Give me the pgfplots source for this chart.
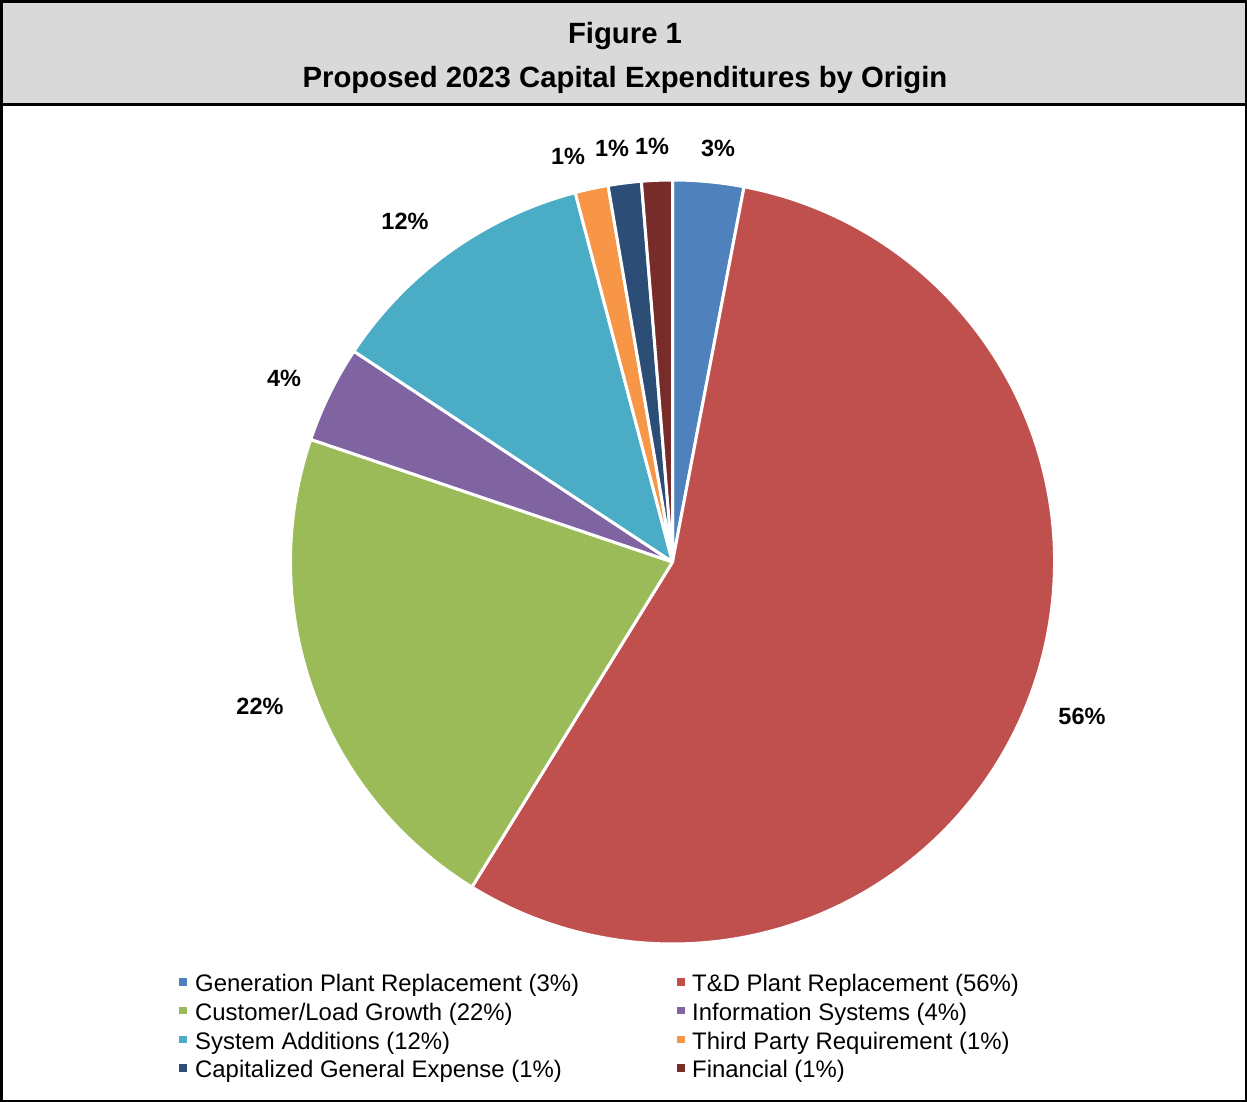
\documentclass[border=0pt]{standalone}
\usepackage{pgfplots}
\usepackage{pgfplotstable}
\pgfplotsset{compat=1.18}
\usepackage{fontspec}
\setmainfont{Liberation Sans}
\definecolor{c0}{HTML}{4F81BD}
\definecolor{c1}{HTML}{C0504D}
\definecolor{c2}{HTML}{9BBB59}
\definecolor{c3}{HTML}{8064A2}
\definecolor{c4}{HTML}{4BACC6}
\definecolor{c5}{HTML}{F79646}
\definecolor{c6}{HTML}{2C4D75}
\definecolor{c7}{HTML}{772C2A}
\definecolor{band}{HTML}{D9D9D9}
% share of each origin (percent), label value and label position
\pgfplotstableread{
idx value pct lx ly
0 3.0 3 718 954
1 55.8 56 1082 386
2 21.4 22 260 396
3 4.1 4 284 724
4 11.6 12 405 881
5 1.4 1 568 945.5
6 1.4 1 612 954
7 1.3 1 652 955.5
}\piedata
\def\cum{0}%
\pgfplotsforeachungrouped \i in {0,...,7}{%
  \pgfplotstablegetelem{\i}{value}\of\piedata
  \pgfmathsetmacro\sa{90-3.6*\cum}%
  \pgfmathsetmacro\cumnew{\cum+\pgfplotsretval}%
  \pgfmathsetmacro\ea{90-3.6*\cumnew}%
  \expandafter\xdef\csname sa\i\endcsname{\sa}%
  \expandafter\xdef\csname ea\i\endcsname{\ea}%
  \global\let\cum\cumnew
}%
\def\cx{672.5}
\def\cy{540}
\def\R{382}
\begin{document}
\begin{tikzpicture}
\begin{axis}[
  x=1pt, y=1pt, scale only axis,
  xmin=0, xmax=1247, ymin=0, ymax=1102,
  hide axis, clip=false,
]
% frame and title band
\fill[band] (axis cs:0,998) rectangle (axis cs:1247,1102);
\draw[line width=3.3pt] (axis cs:0,997.7) -- (axis cs:1247,997.7);
\draw[line width=3.4pt] (axis cs:1.7,0) -- (axis cs:1.7,1102);
\draw[line width=3.4pt] (axis cs:0,1100.3) -- (axis cs:1247,1100.3);
\draw[line width=2.2pt] (axis cs:1245.9,0) -- (axis cs:1245.9,1102);
\draw[line width=2pt] (axis cs:0,1) -- (axis cs:1247,1);
\node[font=\fontsize{29.3}{34}\selectfont\bfseries, anchor=base, inner sep=0pt] at (axis cs:625,1058.7) {Figure 1};
\node[font=\fontsize{29.3}{34}\selectfont\bfseries, anchor=base, inner sep=0pt] at (axis cs:625,1014.7) {Proposed 2023 Capital Expenditures by Origin};
% slices
\pgfplotsinvokeforeach{0,...,7}{
  \fill[c#1, draw=white, line width=3pt, line join=round]
    (axis cs:\cx,\cy) -- (axis cs:{\cx+\R*cos(\csname sa#1\endcsname)},{\cy+\R*sin(\csname sa#1\endcsname)})
    arc[start angle=\csname sa#1\endcsname, end angle=\csname ea#1\endcsname, radius=\R] -- cycle;
}
% data labels
\addplot[draw=none, mark=none, point meta=explicit symbolic,
  nodes near coords={\pgfplotspointmeta\%},
  every node near coord/.append style={anchor=center, inner sep=0pt, text=black,
    font=\fontsize{23.5}{28}\selectfont\bfseries}]
  table[x=lx, y=ly, meta=pct] {\piedata};
% legend
\def\legfont{\fontsize{23.9}{28}\selectfont}
\node[fill=c0, inner sep=0pt, minimum size=7.5pt] at (axis cs:183,120) {};
\node[anchor=base west, inner sep=0pt, font=\legfont] at (axis cs:195,110.3) {Generation Plant Replacement (3\%)};
\node[fill=c2, inner sep=0pt, minimum size=7.5pt] at (axis cs:183,91.33) {};
\node[anchor=base west, inner sep=0pt, font=\legfont] at (axis cs:195,81.63) {Customer/Load Growth (22\%)};
\node[fill=c4, inner sep=0pt, minimum size=7.5pt] at (axis cs:183,62.67) {};
\node[anchor=base west, inner sep=0pt, font=\legfont] at (axis cs:195,52.97) {System Additions (12\%)};
\node[fill=c6, inner sep=0pt, minimum size=7.5pt] at (axis cs:183,34) {};
\node[anchor=base west, inner sep=0pt, font=\legfont] at (axis cs:195,24.3) {Capitalized General Expense (1\%)};
\node[fill=c1, inner sep=0pt, minimum size=7.5pt] at (axis cs:681,120) {};
\node[anchor=base west, inner sep=0pt, font=\legfont] at (axis cs:692,110.3) {T\&D Plant Replacement (56\%)};
\node[fill=c3, inner sep=0pt, minimum size=7.5pt] at (axis cs:681,91.33) {};
\node[anchor=base west, inner sep=0pt, font=\legfont] at (axis cs:692,81.63) {Information Systems (4\%)};
\node[fill=c5, inner sep=0pt, minimum size=7.5pt] at (axis cs:681,62.67) {};
\node[anchor=base west, inner sep=0pt, font=\legfont] at (axis cs:692,52.97) {Third Party Requirement (1\%)};
\node[fill=c7, inner sep=0pt, minimum size=7.5pt] at (axis cs:681,34) {};
\node[anchor=base west, inner sep=0pt, font=\legfont] at (axis cs:692,24.3) {Financial (1\%)};
\end{axis}
\pgfresetboundingbox
\path (0,0) rectangle (1247pt,1102pt);
\end{tikzpicture}
\end{document}
